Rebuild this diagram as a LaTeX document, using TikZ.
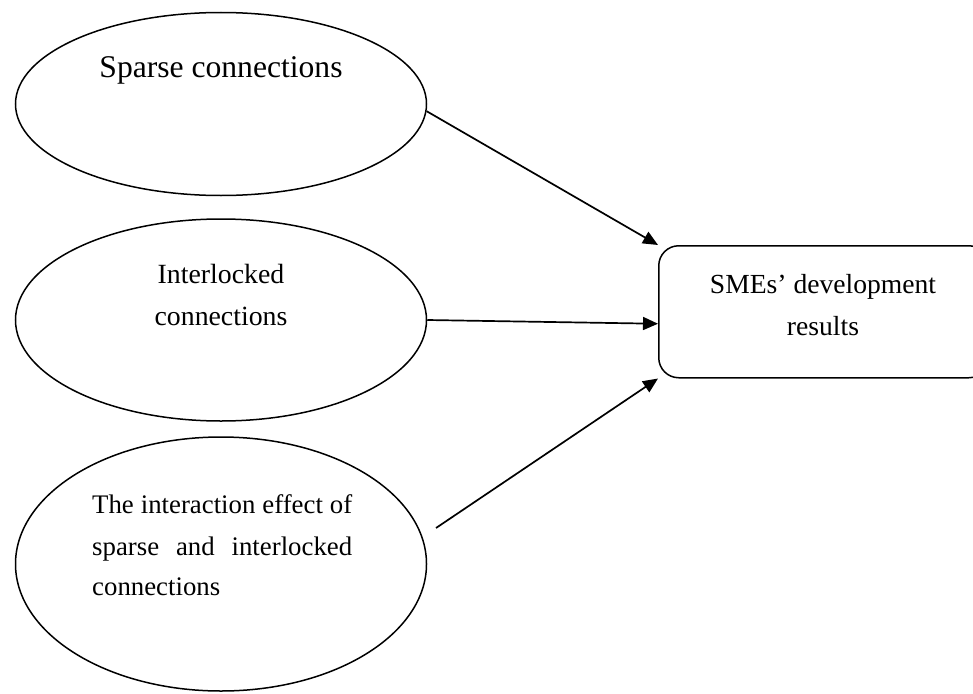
\documentclass[tikz,border=0pt]{standalone}
\usepackage{fontspec}
\setmainfont{Liberation Serif}
\usetikzlibrary{arrows.meta,calc,shapes.geometric}

\begin{document}
\begin{tikzpicture}[x=1pt,y=-1pt,
  oval/.style={draw, ellipse, line width=1.5pt, inner sep=0pt, minimum width=411pt},
  txt/.style={anchor=base, inner sep=0pt},
  link/.style={-{Triangle[length=15pt,width=13pt]}, line width=1.7pt},
  outcome/.style={draw, rectangle, rounded corners=20pt, line width=1.5pt,
    inner sep=0pt, anchor=north west, minimum width=330pt, minimum height=132pt}]
\useasboundingbox (0,0) rectangle (973,693);
\clip (0,0) rectangle (973,693);

% predictor ovals
\node[oval, minimum height=183pt] (e1) at (221,104) {};
\node[oval, minimum height=202pt] (e2) at (221,320) {};
\node[oval, minimum height=254pt] (e3) at (221,564) {};

% outcome box
\node[outcome] (out) at (658,245) {};

% labels
\node[txt, font=\fontsize{31.6}{40}\selectfont] (t1) at (221,77) {Sparse connections};

\node[txt, font=\fontsize{27.8}{42}\selectfont] (t2a) at (221,283) {Interlocked};
\node[txt, font=\fontsize{27.8}{42}\selectfont] (t2b) at (221,325) {connections};

\node[txt, anchor=base west, font=\fontsize{26.8}{41}\selectfont] (t3a) at (92,513)
  {\makebox[260pt][s]{The interaction effect of}};
\node[txt, anchor=base west, font=\fontsize{26.8}{41}\selectfont] (t3b) at (92,555)
  {\makebox[260pt][s]{sparse and interlocked}};
\node[txt, anchor=base west, font=\fontsize{26.8}{41}\selectfont] (t3c) at (92,595)
  {connections};

\node[txt, font=\fontsize{27.6}{42}\selectfont] (t4a) at (823,293) {SMEs’ development};
\node[txt, font=\fontsize{27.6}{42}\selectfont] (t4b) at (823,335) {results};

% connectors
\coordinate (c3) at ($(e3.center)+(215,-36)$);
\draw[link] (e1.-2.2) -- (out.north west);
\draw[link] (e2.east) -- ($(out.west)+(0,12)$);
\draw[link] (c3) -- (out.south west);
\end{tikzpicture}
\end{document}
